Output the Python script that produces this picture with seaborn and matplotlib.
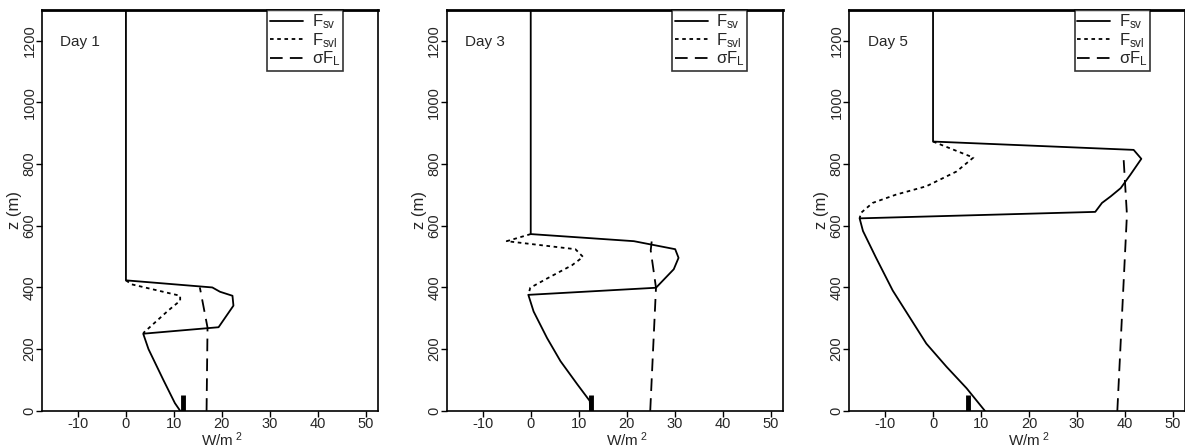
import numpy as np
import pandas as pd
import seaborn as sns
import matplotlib.pyplot as plt

# values (W/m^2 vs height z in m)
days = ['Day 1', 'Day 3', 'Day 5']

# Day 1
fsv_x_1 = [0, 0, 18.0, 19.6, 22.2, 22.4, 19.3, 3.6, 4.7, 7.8, 10.2, 11.3]
fsv_z_1 = [1300, 423, 400, 386, 373, 341, 271, 250, 200, 100, 25, 0]
fsvl_x_1 = [0, 1.2, 11.3, 11.3, 8.8, 3.6]
fsvl_z_1 = [423, 410, 373, 357, 325, 252]
fl_x_1 = [16.8, 17.0, 15.4]
fl_z_1 = [0, 270, 400]
obs_x_1 = 11.9

# Day 3
fsv_x_3 = [0, 0, 21.5, 30.1, 30.8, 29.8, 26.1, -0.5, 0.6, 3.4, 6.2, 9.7, 12.3, 12.4]
fsv_z_3 = [1300, 573, 550, 524, 496, 459, 399, 376, 322, 236, 161, 86, 32, 0]
fsvl_x_3 = [0, -5.0, 9.3, 10.9, 8.6, 3.4, -0.1, -0.5]
fsvl_z_3 = [573, 550, 524, 499, 472, 429, 399, 376]
fl_x_3 = [24.9, 26.1, 25.0, 25.2]
fl_z_3 = [0, 399, 520, 549]
obs_x_3 = 12.6

# Day 5
fsv_x_5 = [0, 0, 41.8, 43.4, 41.1, 39.1, 37.0, 35.2, 33.8, -15.3, -14.6, -11.9,
           -8.4, -4.9, -1.4, 2.8, 7.0, 10.8]
fsv_z_5 = [1300, 873, 846, 817, 765, 722, 695, 674, 645, 624, 583, 497,
           390, 304, 218, 143, 73, 0]
fsvl_x_5 = [0, 8.4, 4.9, -1.4, -7.7, -12.6, -15.0, -15.3]
fsvl_z_5 = [873, 821, 776, 728, 701, 674, 642, 624]
fl_x_5 = [38.4, 40.4, 39.7]
fl_z_5 = [0, 636, 819]
obs_x_5 = 7.2

obs_top = 52

panels = [
    (fsv_x_1, fsv_z_1, fsvl_x_1, fsvl_z_1, fl_x_1, fl_z_1, obs_x_1),
    (fsv_x_3, fsv_z_3, fsvl_x_3, fsvl_z_3, fl_x_3, fl_z_3, obs_x_3),
    (fsv_x_5, fsv_z_5, fsvl_x_5, fsvl_z_5, fl_x_5, fl_z_5, obs_x_5),
]

sns.set_style("ticks")
plt.rcParams['font.family'] = ['Liberation Sans', 'DejaVu Sans']
plt.rcParams['mathtext.fontset'] = 'custom'
plt.rcParams['mathtext.rm'] = 'Liberation Sans'
plt.rcParams['mathtext.it'] = 'Liberation Sans'
plt.rcParams['axes.unicode_minus'] = False

fig = plt.figure(figsize=(11.85, 4.48), dpi=100)
lefts = [0.0354, 0.377, 0.7165]

dot = (0, (2, 2))
dash = (0, (7, 4))

for i, (day, p) in enumerate(zip(days, panels)):
    fx, fz, vx, vz, lx, lz, ox = p
    ax = fig.add_axes([lefts[i], 0.083, 0.2835, 0.895])
    sns.lineplot(x=fx, y=fz, sort=False, estimator=None, color='black',
                 lw=1.3, ax=ax, label=r'$F_{sv}$')
    sns.lineplot(x=vx, y=vz, sort=False, estimator=None, color='black',
                 lw=1.3, linestyle=dot, ax=ax, label=r'$F_{svl}$')
    sns.lineplot(x=lx, y=lz, sort=False, estimator=None, color='black',
                 lw=1.3, linestyle=dash, ax=ax, label=r'$\sigma F_L$')
    ax.plot([ox, ox], [0, obs_top], color='black', lw=3.5, solid_capstyle='butt')

    ax.set_xlim(-17.5, 52.5)
    ax.set_ylim(0, 1300)
    ax.set_xticks([-10, 0, 10, 20, 30, 40, 50])
    ax.set_yticks([0, 200, 400, 600, 800, 1000, 1200])
    ax.tick_params(axis='both', labelsize=10.5, length=4, width=1, color='black')
    ax.tick_params(axis='x', pad=0.5)
    ax.tick_params(axis='y', pad=0)
    for lab in ax.get_yticklabels():
        lab.set_rotation(90)
        lab.set_va('center')
    for s in ax.spines.values():
        s.set_visible(True)
        s.set_color('black')
        s.set_linewidth(1.2)
    ax.spines['top'].set_linewidth(2)
    ax.set_xlabel(r'W/m$^{\ 2}$', fontsize=11)
    ax.xaxis.set_label_coords(0.535, -0.05, transform=ax.transAxes)
    ax.xaxis.label.set_va('top')
    ax.set_ylabel('z (m)', fontsize=12, labelpad=0)
    ax.text(0.055, 0.92, day, transform=ax.transAxes, fontsize=11,
            ha='left', va='center')
    leg = ax.legend(loc='upper right', bbox_to_anchor=(0.895, 1.0),
                    fontsize=12, frameon=True, fancybox=False, borderpad=0.15,
                    handlelength=2.0, labelspacing=0.0, handletextpad=0.5,
                    borderaxespad=0)
    leg.get_frame().set_edgecolor('black')
    leg.get_frame().set_linewidth(1.2)
    ax.set_facecolor('white')

fig.savefig('out.png', dpi=100, facecolor='white')
